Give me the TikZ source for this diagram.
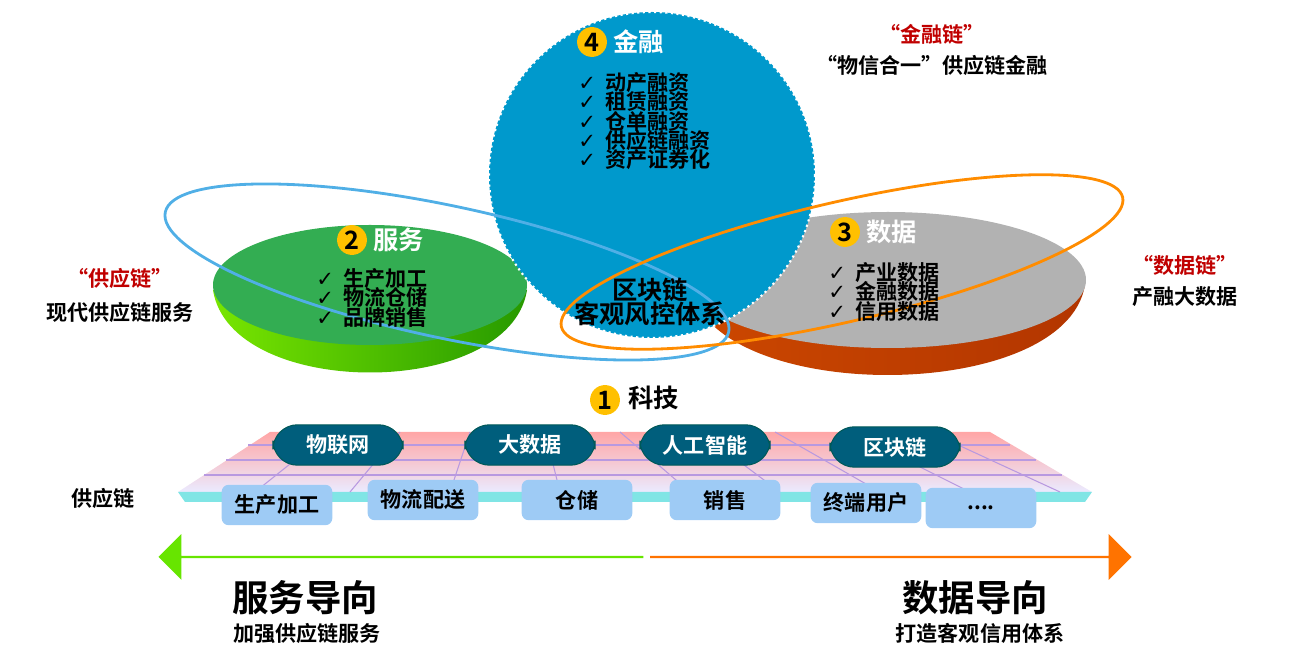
\documentclass[tikz,border=0pt]{standalone}
\usepackage{fontspec}
\setmainfont{Noto Sans CJK SC}[BoldFont={* Bold}]
\newfontfamily\dvfont{DejaVu Sans}
\newcommand{\ckm}{{\dvfont\mdseries ✓}}
\usetikzlibrary{arrows.meta,shapes.arrows}
\definecolor{dteal}{HTML}{005E7C}
\definecolor{lblue}{HTML}{9ECBF5}
\definecolor{fblue}{HTML}{0099CC}
\definecolor{gold}{HTML}{FFC000}
\definecolor{dred}{HTML}{C00000}
\tikzset{
 px/.style={x=0.02cm,y=-0.02cm},
 badge/.style={circle,fill=gold,inner sep=0pt,minimum size=17pt,font=\bfseries\Large},
 lbl/.style={font=\bfseries\Large},
 item/.style={font=\bfseries\large,align=left},
}
\begin{document}
\begin{tikzpicture}[px]
\useasboundingbox (0,0) rectangle (1305,661);
% left disc
\shade[left color=lime!70!green!90!black,right color=green!50!black!80!lime] (213,290) .. controls (230,400) and (510,400) .. (527,290) -- cycle;
\fill[teal!40!green!60!gray] (370,285) ellipse (157 and 60);
% right disc
\shade[left color=orange!70!red!80!black,right color=orange!60!red!70!black] (690,285) .. controls (710,405) and (1065,405) .. (1085,285) -- cycle;
\fill[black!30] (888,280) ellipse (198 and 68);
% blue circle
\fill[fblue] (652,175) circle (163);
\draw[white,dotted,line width=1.2pt] (652,175) circle (163);
% rings
\draw[cyan!80!blue!70!white,line width=1.6pt,rotate around={-12:(447,272)}] (447,272) ellipse (288 and 66);
\draw[orange!90!yellow,line width=1.6pt,rotate around={13:(842,262)}] (842,262) ellipse (288 and 60);
% platform
\shade[top color=red!35!white,bottom color=blue!8!white] (270,432) -- (990,432) -- (1092,492) -- (178,492) -- cycle;
\fill[teal!40!cyan!50!white] (178,492) -- (1092,492) -- (1085,502) -- (185,502) -- cycle;
\begin{scope}[blue!40!violet!40!white,line width=0.6pt]
\foreach \y/\l/\r in {445/248/1010,460/226/1036,475/204/1062} \draw (\l,\y) -- (\r,\y);
\foreach \t/\b in {330/255,400/350,470/450,545/560,620/690,700/780,775/880,850/970,930/1060} \draw (\t,432) -- (\b,492);
\end{scope}
% top boxes
\foreach \n/\x/\y/\t in {a/338/445/物联网,b/530/445/大数据,c/705/445/人工智能,d/895/447/区块链}
 \node[draw=teal!70!black,line width=0.6pt,fill=dteal,rounded corners=14pt,minimum width=74pt,minimum height=23pt,text=white,font=\bfseries\large] (\n) at (\x,\y) {\t};
% bottom boxes
\foreach \n/\x/\y/\t in {p/277/505/生产加工,q/423/500/物流配送,r/577/500/仓储,s/725/500/销售,u/866/503/终端用户,v/981/508/{....}}
 \node[fill=lblue,rounded corners=4pt,minimum width=63pt,minimum height=23pt,font=\bfseries\large] (\n) at (\x,\y) {\t};
\node[font=\bfseries\large,anchor=west] (gyl) at (65,498) {供应链};
% arrows
\node[single arrow,shape border rotate=180,fill=lime!60!green!90!black,minimum height=276pt,minimum width=26pt,single arrow head extend=4pt,inner sep=0pt,anchor=tip] (la) at (158,557) {};
\node[single arrow,fill=orange!90!red,minimum height=274pt,minimum width=26pt,single arrow head extend=4pt,inner sep=0pt,anchor=tip] (ra) at (1132,557) {};
% bottom texts
\node[font=\bfseries\huge] (fw) at (305,598) {服务导向};
\node[font=\bfseries\large] (fw2) at (307,633) {加强供应链服务};
\node[font=\bfseries\huge] (sj) at (975,598) {数据导向};
\node[font=\bfseries\large] (sj2) at (980,633) {打造客观信用体系};
% badges and titles
\node[badge] (b4) at (592,42) {4};
\node[lbl,text=white,anchor=west] (t4) at (607,42) {金融};
\node[badge] (b2) at (352,240) {2};
\node[lbl,text=white,anchor=west] (t2) at (367,240) {服务};
\node[badge] (b3) at (845,232) {3};
\node[lbl,text=white,anchor=west] (t3) at (860,232) {数据};
\node[badge] (b1) at (605,400) {1};
\node[lbl,anchor=west] (t1) at (622,398) {科技};
% items
\node[item,anchor=north west,inner sep=0pt] (i4) at (578,72) {\ckm\ \ 动产融资\\[-3pt]\ckm\ \ 租赁融资\\[-3pt]\ckm\ \ 仓单融资\\[-3pt]\ckm\ \ 供应链融资\\[-3pt]\ckm\ \ 资产证券化};
\node[item,anchor=north west,inner sep=0pt] (i2) at (316,268) {\ckm\ \ 生产加工\\[-3pt]\ckm\ \ 物流仓储\\[-3pt]\ckm\ \ 品牌销售};
\node[item,anchor=north west,inner sep=0pt] (i3) at (828,262) {\ckm\ \ 产业数据\\[-3pt]\ckm\ \ 金融数据\\[-3pt]\ckm\ \ 信用数据};
\node[font=\bfseries\Large,align=center,inner sep=0pt] (core) at (650,302) {区块链\\[-4pt]客观风控体系};
% side texts
\node[font=\bfseries\large,text=dred] (s1) at (932,34) {“金融链”};
\node[font=\bfseries\large] (s1b) at (932,65) {“物信合一”供应链金融};
\node[font=\bfseries\large,text=dred] (s2) at (120,278) {“供应链”};
\node[font=\bfseries\large] (s2b) at (120,312) {现代供应链服务};
\node[font=\bfseries\large,text=dred] (s3) at (1185,265) {“数据链”};
\node[font=\bfseries\large] (s3b) at (1185,297) {产融大数据};
\end{tikzpicture}
\end{document}
